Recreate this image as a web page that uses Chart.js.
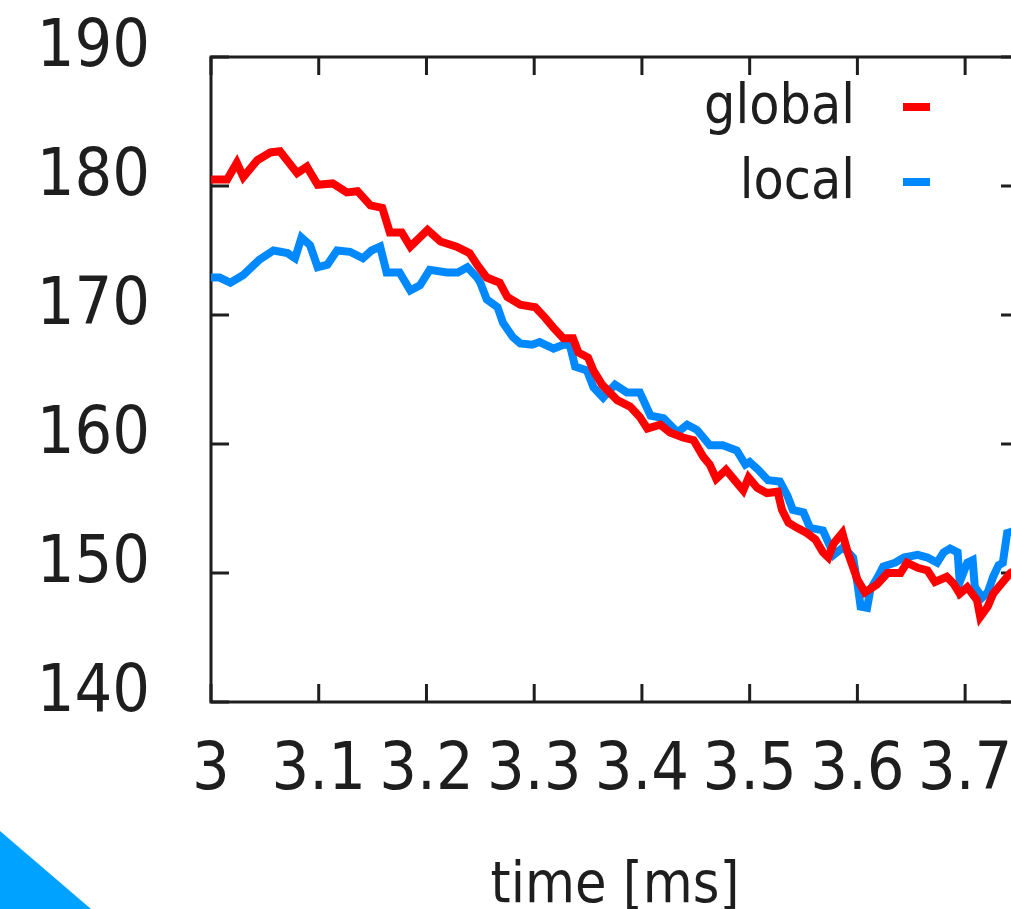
<!DOCTYPE html>
<html>
<head>
<meta charset="utf-8">
<script src="https://cdn.jsdelivr.net/npm/chart.js@4"></script>
<style>
  html, body { margin: 0; padding: 0; overflow: hidden; background: #fff; }
  #wrap { position: absolute; left: 0; top: 0; width: 1060px; height: 909px; }
</style>
</head>
<body>
<div id="wrap"><canvas id="c" width="1060" height="909"></canvas></div>
<script>
// Series: time [ms] and value for each run
const globalTime = [3.000, 3.015, 3.024, 3.030, 3.043, 3.055, 3.064, 3.080, 3.089, 3.099,
  3.113, 3.126, 3.136, 3.148, 3.159, 3.166, 3.177, 3.185, 3.201, 3.213,
  3.228, 3.240, 3.247, 3.256, 3.268, 3.275, 3.287, 3.301, 3.310, 3.318,
  3.327, 3.336, 3.341, 3.350, 3.355, 3.363, 3.377, 3.389, 3.398, 3.405,
  3.417, 3.426, 3.438, 3.448, 3.457, 3.463, 3.469, 3.478, 3.486, 3.494,
  3.499, 3.507, 3.516, 3.526, 3.530, 3.536, 3.544, 3.553, 3.561, 3.568,
  3.573, 3.578, 3.586, 3.591, 3.600, 3.607, 3.618, 3.628, 3.640, 3.646,
  3.656, 3.665, 3.672, 3.683, 3.689, 3.695, 3.702, 3.711, 3.714, 3.721,
  3.726, 3.735, 3.742, 3.750];
const globalValues = [180.5, 180.5, 181.8, 180.7, 182.0, 182.6, 182.7, 181.0, 181.5, 180.1,
  180.2, 179.5, 179.6, 178.5, 178.3, 176.4, 176.4, 175.3, 176.6, 175.7,
  175.3, 174.8, 173.9, 172.9, 172.5, 171.4, 170.8, 170.6, 169.8, 169.0,
  168.2, 168.2, 167.1, 166.7, 165.7, 164.6, 163.4, 162.9, 162.1, 161.2,
  161.5, 160.9, 160.5, 160.3, 159.0, 158.4, 157.3, 158.0, 157.2, 156.4,
  157.4, 156.6, 156.2, 156.3, 154.9, 153.9, 153.5, 153.1, 152.6, 151.6,
  151.2, 152.3, 153.1, 151.6, 149.5, 148.5, 149.1, 150.0, 150.0, 150.8,
  150.4, 150.2, 149.3, 149.7, 149.2, 148.4, 148.9, 147.9, 146.6, 147.4,
  148.4, 149.3, 150.0, 150.4];

const localTime = [3.000, 3.008, 3.018, 3.030, 3.045, 3.058, 3.071, 3.078, 3.084, 3.092,
  3.099, 3.108, 3.117, 3.129, 3.141, 3.149, 3.157, 3.163, 3.175, 3.185,
  3.194, 3.203, 3.219, 3.229, 3.238, 3.247, 3.250, 3.256, 3.266, 3.271,
  3.280, 3.287, 3.298, 3.305, 3.318, 3.327, 3.333, 3.338, 3.349, 3.355,
  3.364, 3.375, 3.386, 3.398, 3.408, 3.420, 3.433, 3.442, 3.451, 3.463,
  3.475, 3.488, 3.496, 3.500, 3.508, 3.517, 3.528, 3.535, 3.540, 3.550,
  3.556, 3.568, 3.575, 3.578, 3.587, 3.596, 3.600, 3.603, 3.609, 3.612,
  3.619, 3.624, 3.635, 3.643, 3.656, 3.665, 3.674, 3.680, 3.686, 3.693,
  3.695, 3.702, 3.707, 3.709, 3.716, 3.721, 3.726, 3.731, 3.735, 3.739,
  3.743, 3.750];
const localValues = [172.9, 172.9, 172.5, 173.1, 174.3, 175.0, 174.8, 174.4, 176.0, 175.4,
  173.7, 173.9, 175.0, 174.9, 174.4, 175.0, 175.3, 173.3, 173.3, 171.9,
  172.3, 173.5, 173.3, 173.3, 173.7, 172.9, 172.5, 171.2, 170.6, 169.4,
  168.3, 167.8, 167.7, 167.9, 167.4, 167.7, 167.7, 166.0, 165.7, 164.4,
  163.6, 164.6, 164.0, 164.0, 162.2, 162.0, 160.9, 161.5, 161.1, 159.9,
  159.9, 159.5, 158.4, 158.6, 158.0, 157.2, 157.1, 156.0, 154.9, 154.7,
  153.5, 153.3, 152.0, 151.4, 152.0, 151.2, 149.2, 147.4, 147.3, 148.7,
  149.7, 150.5, 150.8, 151.2, 151.4, 151.2, 150.8, 151.6, 151.9, 151.6,
  149.3, 150.8, 151.0, 148.9, 148.1, 148.5, 149.7, 150.6, 150.8, 153.1,
  153.2, 153.5];

const seriesNames = ['global', 'local'];
const seriesColors = ['#ff0000', '#0088ff'];

// Axis ticks
const xTicks = [3, 3.1, 3.2, 3.3, 3.4, 3.5, 3.6, 3.7];
const yTicks = [140, 150, 160, 170, 180, 190];
const xRange = [3, 3.75];
const yRange = [140, 190];
const xTitle = 'time [ms]';

const FAMILY = '"DejaVu Sans Condensed", "DejaVu Sans", sans-serif';
const INK = '#1e1e1e';

function toPoints(times, values) {
  return times.map((t, i) => ({ x: t, y: values[i] }));
}

// Frame around the plot area with inward tick marks on all four sides
const framePlugin = {
  id: 'frame',
  beforeDatasetsDraw(chart, args, opts) {
    const { ctx, chartArea: a, scales } = chart;
    const len = opts.tickLength;
    ctx.save();
    ctx.strokeStyle = INK;
    ctx.lineWidth = opts.lineWidth;
    ctx.lineCap = 'butt';
    ctx.beginPath();
    scales.x.ticks.forEach(t => {
      const px = scales.x.getPixelForValue(t.value);
      ctx.moveTo(px, a.bottom); ctx.lineTo(px, a.bottom - len);
      ctx.moveTo(px, a.top); ctx.lineTo(px, a.top + len);
    });
    scales.y.ticks.forEach(t => {
      const py = scales.y.getPixelForValue(t.value);
      ctx.moveTo(a.left, py); ctx.lineTo(a.left + len, py);
      ctx.moveTo(a.right, py); ctx.lineTo(a.right - len, py);
    });
    ctx.stroke();
    ctx.strokeRect(a.left, a.top, a.right - a.left, a.bottom - a.top);
    ctx.restore();
  }
};

// Key in the upper right: label text right-aligned, short line sample to its right
const keyPlugin = {
  id: 'key',
  afterDatasetsDraw(chart, args, opts) {
    const { ctx } = chart;
    ctx.save();
    ctx.font = opts.fontSize + 'px ' + FAMILY;
    ctx.textAlign = 'right';
    ctx.textBaseline = 'alphabetic';
    chart.data.datasets.forEach((ds, i) => {
      const base = opts.top + i * opts.rowHeight;
      ctx.fillStyle = INK;
      ctx.fillText(ds.label, opts.textRight, base);
      ctx.strokeStyle = ds.borderColor;
      ctx.lineWidth = opts.sampleWidth;
      ctx.beginPath();
      ctx.moveTo(opts.sampleLeft, base - opts.sampleRise);
      ctx.lineTo(opts.sampleLeft + opts.sampleLength, base - opts.sampleRise);
      ctx.stroke();
    });
    ctx.restore();
  }
};

// Corner wedge at the lower left
const cornerPlugin = {
  id: 'corner',
  afterDraw(chart, args, opts) {
    const { ctx, height } = chart;
    ctx.save();
    ctx.fillStyle = opts.color;
    ctx.beginPath();
    ctx.moveTo(0, height - opts.rise);
    ctx.lineTo(opts.run, height);
    ctx.lineTo(0, height);
    ctx.closePath();
    ctx.fill();
    ctx.restore();
  }
};

new Chart(document.getElementById('c'), {
  type: 'line',
  data: {
    datasets: [
      { label: seriesNames[0], data: toPoints(globalTime, globalValues),
        borderColor: seriesColors[0], backgroundColor: seriesColors[0] },
      { label: seriesNames[1], data: toPoints(localTime, localValues),
        borderColor: seriesColors[1], backgroundColor: seriesColors[1] }
    ]
  },
  plugins: [framePlugin, keyPlugin, cornerPlugin],
  options: {
    responsive: false,
    animation: false,
    events: [],
    layout: { padding: { left: 0, top: 57, right: 41, bottom: 0 } },
    elements: {
      line: { borderWidth: 8, tension: 0, borderJoinStyle: 'miter' },
      point: { radius: 0 }
    },
    scales: {
      x: {
        type: 'linear',
        min: xRange[0], max: xRange[1],
        afterBuildTicks: s => { s.ticks = xTicks.map(v => ({ value: v })); },
        afterFit: s => { s.height = 207; s.paddingLeft = 0; s.paddingRight = 0; },
        grid: { display: false, drawTicks: false, tickLength: 0 },
        border: { display: false },
        ticks: {
          autoSkip: false, maxRotation: 0, minRotation: 0,
          padding: 37,
          color: INK,
          font: { family: FAMILY, size: 66, lineHeight: 1 },
          callback: v => String(Number(v.toFixed(1)))
        },
        title: {
          display: true, text: xTitle, color: INK,
          font: { family: FAMILY, size: 57, lineHeight: 0.76 },
          padding: 0
        }
      },
      y: {
        type: 'linear',
        min: yRange[0], max: yRange[1],
        afterBuildTicks: s => { s.ticks = yTicks.map(v => ({ value: v })); },
        afterFit: s => { s.width = 211; s.paddingTop = 0; s.paddingBottom = 0; },
        grid: { display: false, drawTicks: false, tickLength: 0 },
        border: { display: false },
        ticks: {
          padding: 61,
          labelOffset: -8,
          color: INK,
          font: { family: FAMILY, size: 66, lineHeight: 1 },
          callback: v => String(v)
        }
      }
    },
    plugins: {
      legend: { display: false },
      tooltip: { enabled: false },
      frame: { tickLength: 18, lineWidth: 3 },
      key: { fontSize: 55, textRight: 855, top: 123, rowHeight: 75,
             sampleLeft: 903, sampleLength: 27, sampleRise: 16, sampleWidth: 8 },
      corner: { color: '#00a2ff', rise: 78, run: 91 }
    }
  }
});
</script>
</body>
</html>
